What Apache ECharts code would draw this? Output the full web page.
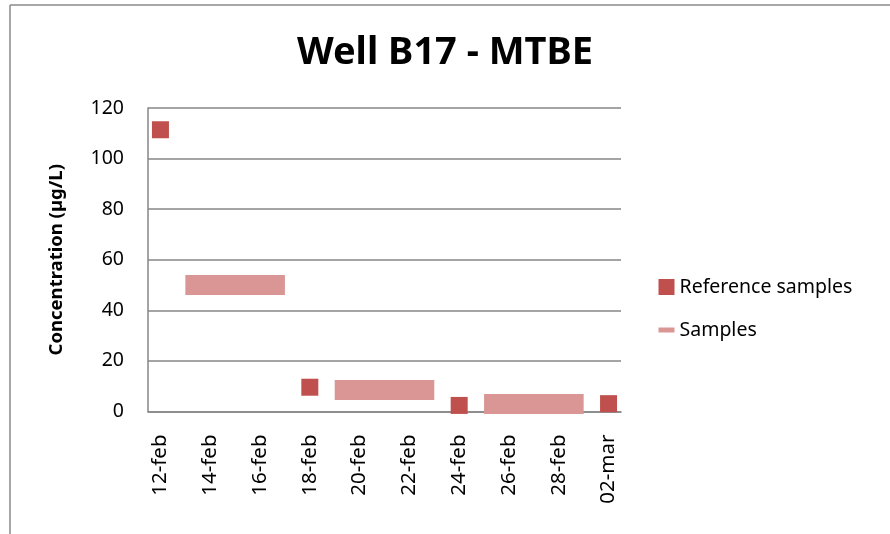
<!DOCTYPE html>
<html><head><meta charset="utf-8">
<script src="https://cdn.jsdelivr.net/npm/echarts@6/dist/echarts.min.js"></script>
<style>html,body{margin:0;padding:0;background:#fff}#c{width:890px;height:534px}</style>
</head><body><div id="c"></div>
<script>
const categories = ['12-feb','13-feb','14-feb','15-feb','16-feb','17-feb','18-feb','19-feb','20-feb','21-feb','22-feb','23-feb','24-feb','25-feb','26-feb','27-feb','28-feb','01-mar','02-mar'];
const referenceSamples = [111.4,null,null,null,null,null,9.6,null,null,null,null,null,2.4,null,null,null,null,null,3.1];
const samples = [null,50,50,50,50,50,null,8.5,8.5,8.5,8.5,8.5,null,3,3,3,3,3,null];
const yTicks = {min:0, max:120, interval:20};
const titleText = 'Well B17 - MTBE';
const yName = 'Concentration (µg/L)';

const FONT = 'Noto Sans';
const chart = echarts.init(document.getElementById('c'), null, {renderer:'canvas'});
chart.setOption({
  animation:false,
  backgroundColor:'#fff',
  title:{text:titleText,left:'center',top:29,textStyle:{fontFamily:FONT,fontWeight:'bold',fontSize:38,color:'#000'}},
  grid:{left:148,right:269,top:108,bottom:122.5,containLabel:false},
  legend:{orient:'vertical',left:651,top:272,itemWidth:16,itemHeight:16,itemGap:23,
    textStyle:{fontFamily:FONT,fontSize:19.5,color:'#000'},
    data:[{name:'Reference samples',icon:'rect'},
          {name:'Samples',lineStyle:{width:5},itemStyle:{color:'rgba(0,0,0,0)',borderColor:'rgba(0,0,0,0)',borderWidth:0}}]},
  xAxis:{type:'category',data:categories,boundaryGap:true,
    axisLine:{lineStyle:{color:'#868686',width:1.5}},axisTick:{show:false},
    axisLabel:{interval:1,rotate:90,margin:23,fontFamily:FONT,fontSize:20.5,color:'#000'},
    splitLine:{show:false}},
  yAxis:{type:'value',min:yTicks.min,max:yTicks.max,interval:yTicks.interval,
    name:yName,nameLocation:'middle',nameGap:82,
    nameTextStyle:{fontFamily:FONT,fontWeight:'bold',fontSize:18.5,color:'#000'},
    axisLine:{show:true,lineStyle:{color:'#868686',width:1.5}},axisTick:{show:false},
    axisLabel:{margin:24,fontFamily:FONT,fontSize:19.5,color:'#000'},
    splitLine:{lineStyle:{color:'#868686',width:1.5}}},
  graphic:[
    {type:'line',shape:{x1:10,y1:5,x2:890,y2:5},style:{stroke:'#8a8a8a',lineWidth:1.5}},
    {type:'line',shape:{x1:10,y1:5,x2:10,y2:534},style:{stroke:'#8a8a8a',lineWidth:1.5}}
  ],
  series:[
    {name:'Samples',type:'line',data:samples,connectNulls:false,showSymbol:false,symbol:'none',
      lineStyle:{color:'#D99694',width:20,cap:'butt'},itemStyle:{color:'#D99694'},z:2},
    {name:'Reference samples',type:'scatter',data:referenceSamples,
      symbol:'rect',symbolSize:17,
      itemStyle:{color:'#C0504D',opacity:1},z:3}
  ]
});
</script></body></html>
